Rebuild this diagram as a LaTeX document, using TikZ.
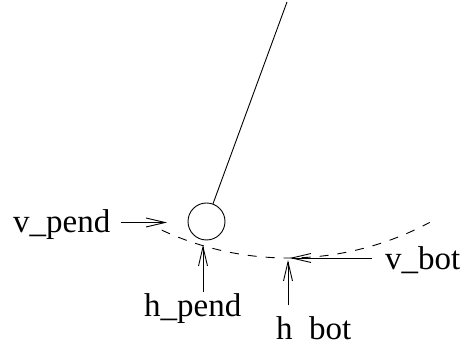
\documentclass[tikz,border=0pt]{standalone}
\usepackage{fontspec}
\setmainfont{Liberation Serif}
\usetikzlibrary{arrows.meta, positioning}

\begin{document}
\begin{tikzpicture}[
  x=1pt, y=1pt,
  lbl/.style  = {inner sep=0pt, font=\fontsize{33}{36}\selectfont},
  bob/.style  = {draw, circle, minimum size=37pt, inner sep=0pt, line width=0.9pt},
  rod/.style  = {line width=0.9pt},
  swing/.style = {line width=0.9pt, dash pattern=on 9pt off 9pt},
  arr/.style  = {-{Straight Barb[length=19pt, width=9pt, line width=0.9pt]}, line width=0.9pt}
]
\useasboundingbox (0,0) rectangle (461,350);

%% ---- pendulum ----
\coordinate (pivot) at (287,348);
\node[bob] (ball) at (206.5,128.5) {};
\draw[rod] (pivot) -- (ball);

% path of the swing
\draw[swing] (288,392) ++(245.1:300) arc[start angle=245.1, end angle=298.2, radius=300];

%% ---- labels ----
\node[lbl, anchor=base west] (vpend) at (13,117)  {v\_pend};
\node[lbl, anchor=base west] (hpend) at (144,33)  {h\_pend};
\node[lbl, anchor=base west] (vbot)  at (385,80)  {v\_bot};
\node[lbl, anchor=base west] (hbot)  at (276,10)  {h\phantom{\_}bot};

\coordinate (vpendtip) at (167,127.5);
\coordinate (hpendtip) at (203,105);
\coordinate (vbottip)  at (290,92);
\coordinate (hbottip)  at (288,90);

% arrows
\draw[arr] ([xshift=10pt]vpend.east |- vpendtip) -- (vpendtip);
\draw[arr] ([yshift=1.5pt]hpend.north -| hpendtip) -- (hpendtip);
\draw[arr] ([xshift=-13pt]vbot.west |- vbottip) -- (vbottip);
\draw[arr] ([yshift=11.5pt]hbot.north -| hbottip) -- (hbottip);

\end{tikzpicture}
\end{document}
